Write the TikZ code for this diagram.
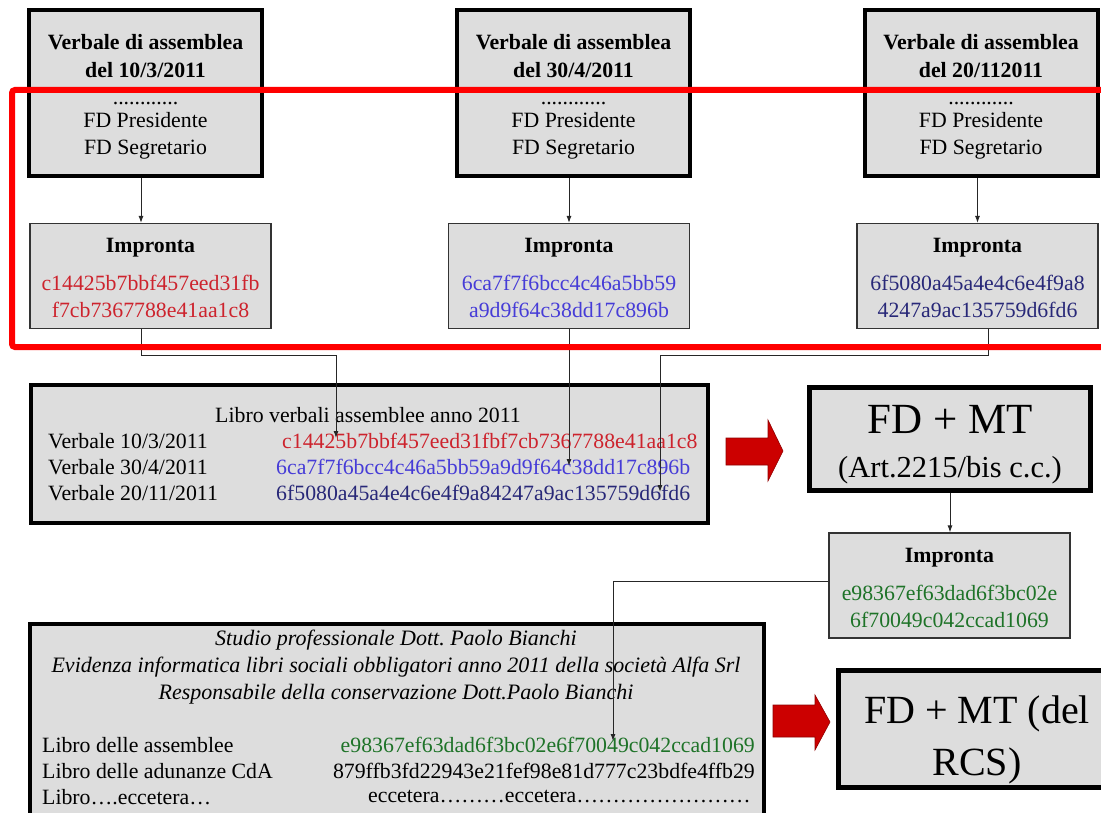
\documentclass[tikz,border=0pt]{standalone}
\usepackage{fontspec}
\setmainfont{Liberation Serif}
\usetikzlibrary{arrows.meta,calc}
\definecolor{boxgray}{RGB}{221,221,221}
\definecolor{hashred}{RGB}{205,35,45}
\definecolor{hashblue}{RGB}{70,60,215}
\definecolor{hashnavy}{RGB}{40,40,120}
\definecolor{hashgreen}{RGB}{30,115,40}
\definecolor{arrowred}{RGB}{204,0,0}
\newcommand{\bodyfont}{\fontsize{21.8}{27}\selectfont}
\newcommand{\topstrut}[1]{\rule{0pt}{#1}}
\newcommand{\ellip}{…}
\tikzset{
  verbale/.style={draw=black,line width=4pt,fill=boxgray,minimum width=233pt,minimum height=166pt,align=center,inner sep=0pt,font=\bodyfont},
  impronta/.style={draw=black!80,line width=1.2pt,fill=boxgray,minimum width=241pt,minimum height=105pt,align=center,inner sep=0pt,font=\bodyfont},
  thickbox/.style={draw=black,line width=5pt,fill=boxgray,align=center,inner sep=0pt},
  rowtext/.style={anchor=west,inner sep=0pt,font=\bodyfont},
  link/.style={draw=black!85,line width=0.9pt,-{Latex[length=7pt,width=5pt]}},
  blockarrow/.style={fill=arrowred,draw=arrowred!70!black,line width=0.6pt}
}
\begin{document}
\begin{tikzpicture}[x=1pt,y=-1pt]
  \useasboundingbox (0,0) rectangle (1101,813);
  \clip (0,0) rectangle (1101,813);
  % verbali di assemblea
  \node[verbale] (v1) at (145.5,93) {\topstrut{23pt}\textbf{Verbale di assemblea}\\[1pt]\textbf{del 10/3/2011}\\............\\[-4pt]FD Presidente\\FD Segretario};
  \node[verbale] (v2) at (573.5,93) {\topstrut{23pt}\textbf{Verbale di assemblea}\\[1pt]\textbf{del 30/4/2011}\\............\\[-4pt]FD Presidente\\FD Segretario};
  \node[verbale] (v3) at (981,93) {\topstrut{23pt}\textbf{Verbale di assemblea}\\[1pt]\textbf{del 20/112011}\\............\\[-4pt]FD Presidente\\FD Segretario};
  % impronte
  \node[impronta] (imp1) at (150.5,276) {\topstrut{19pt}\textbf{Impronta}\\[11pt]\textcolor{hashred}{c14425b7bbf457eed31fb}\\\textcolor{hashred}{f7cb7367788e41aa1c8}};
  \node[impronta] (imp2) at (569,276) {\topstrut{19pt}\textbf{Impronta}\\[11pt]\textcolor{hashblue}{6ca7f7f6bcc4c46a5bb59}\\\textcolor{hashblue}{a9d9f64c38dd17c896b}};
  \node[impronta] (imp3) at (977.5,276) {\topstrut{19pt}\textbf{Impronta}\\[11pt]\textcolor{hashnavy}{6f5080a45a4e4c6e4f9a8}\\\textcolor{hashnavy}{4247a9ac135759d6fd6}};
  % columns of the connectors
  \coordinate (a1) at (141,0);
  \coordinate (a3) at (988,0);
  \coordinate (k1) at (336,355);
  \coordinate (k3) at (660,355);
  \draw[link] (v1.south -| a1) -- (imp1.north -| a1);
  \draw[link] (v2.south -| imp2.north) -- (imp2.north);
  \draw[link] (v3.south -| imp3.north) -- (imp3.north);
  % libro verbali
  \node[thickbox,line width=4pt,minimum width=677pt,minimum height=138pt] (libro) at (369.5,454) {};
  \node[inner sep=0pt,font=\bodyfont] (ltitle) at (368,415) {Libro verbali assemblee anno 2011};
  \node[rowtext] (r1) at (48,441) {Verbale 10/3/2011};
  \node[rowtext] (r2) at (48,467) {Verbale 30/4/2011};
  \node[rowtext] (r3) at (48,493) {Verbale 20/11/2011};
  \node[rowtext,text=hashred] (h1) at (282,441) {c14425b7bbf457eed31fbf7cb7367788e41aa1c8};
  \node[rowtext,text=hashblue] (h2) at (276,467) {6ca7f7f6bcc4c46a5bb59a9d9f64c38dd17c896b};
  \node[rowtext,text=hashnavy] (h3) at (276,493) {6f5080a45a4e4c6e4f9a84247a9ac135759d6fd6};
  \draw[link] (imp1.south -| a1) |- (k1) -- ([yshift=3pt]k1 |- h1);
  \draw[link] (imp2.south) -- ([yshift=1pt]imp2.south |- h2);
  \draw[link] (imp3.south -| a3) |- (k3) -- ([yshift=1pt]k3 |- h3);
  % FD + MT
  \fill[blockarrow] (726,438) -- (768,438) -- (768,420) -- (783,451) -- (768,481) -- (768,465) -- (726,465) -- cycle;
  \node[thickbox,minimum width=281pt,minimum height=103pt,font=\fontsize{43}{44}\selectfont] (fdmt) at (950,439) {\topstrut{40pt}FD + MT\\{\fontsize{30.5}{36}\selectfont (Art.2215/bis c.c.)}};
  \node[impronta] (imp4) at (949.5,585.5) {\topstrut{20pt}\textbf{Impronta}\\[11pt]\textcolor{hashgreen}{e98367ef63dad6f3bc02e}\\\textcolor{hashgreen}{6f70049c042ccad1069}};
  \draw[link] (fdmt.south) -- (fdmt.south |- imp4.north);
  % evidenza informatica
  \draw[black,line width=4pt,fill=boxgray] (30,624) rectangle (764,850);
  \node[inner sep=0pt,font=\fontsize{22}{27}\selectfont\itshape,align=center] (studio) at (396,667) {Studio professionale Dott.\ Paolo Bianchi\\Evidenza informatica libri sociali obbligatori anno 2011 della società Alfa Srl\\Responsabile della conservazione Dott.Paolo Bianchi};
  \node[rowtext] (b1) at (42,745) {Libro delle assemblee};
  \node[rowtext] (b2) at (42,771) {Libro delle adunanze CdA};
  \node[rowtext] (b3) at (42,797) {Libro….eccetera…};
  \node[rowtext,anchor=east,text=hashgreen] (g1) at (755,745) {e98367ef63dad6f3bc02e6f70049c042ccad1069};
  \node[rowtext,anchor=east] (g2) at (755,771) {879ffb3fd22943e21fef98e81d777c23bdfe4ffb29};
  \node[rowtext] (g3) at (368,797) {eccetera\ellip\ellip\ellip eccetera\ellip\ellip\ellip\ellip\ellip\ellip\ellip\ellip};
  \coordinate (k4) at (613,0);
  \draw[link] ([yshift=4.5pt]imp4.west) -| ([yshift=4pt]k4 |- g1);
  % FD + MT del RCS
  \fill[blockarrow] (773,705) -- (815,705) -- (815,695) -- (830,722) -- (815,750) -- (815,737) -- (773,737) -- cycle;
  \node[thickbox,minimum width=277pt,minimum height=117pt,font=\fontsize{40}{52}\selectfont] (fdmtrcs) at (977,729) {\topstrut{50pt}FD + MT (del\\RCS)};
  % perimetro rosso
  \draw[red,line width=6pt,rounded corners=3pt] (12,90) rectangle (1125,347);
\end{tikzpicture}
\end{document}
